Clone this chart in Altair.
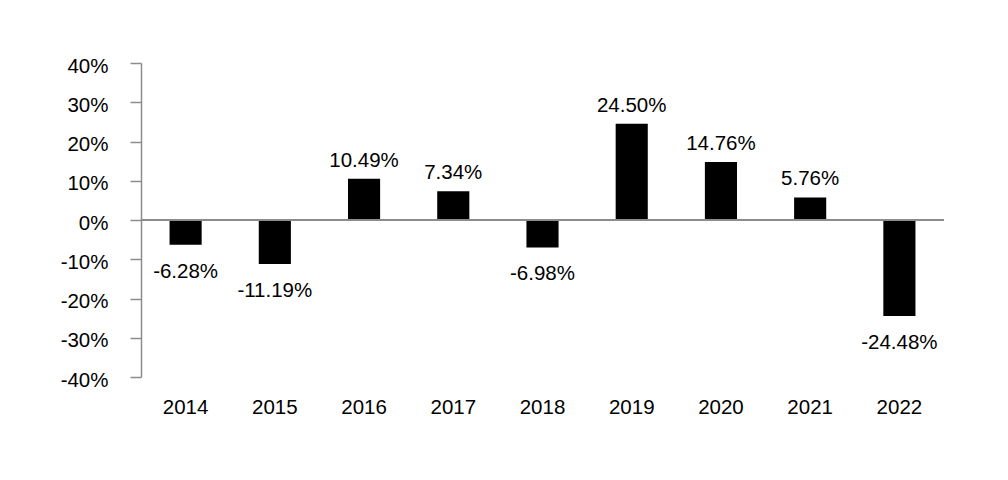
import altair as alt
import pandas as pd

years = ["2014", "2015", "2016", "2017", "2018", "2019", "2020", "2021", "2022"]
returns = [-6.28, -11.19, 10.49, 7.34, -6.98, 24.50, 14.76, 5.76, -24.48]
labels = ["-6.28%", "-11.19%", "10.49%", "7.34%", "-6.98%", "24.50%", "14.76%", "5.76%", "-24.48%"]
ticks = [-40, -30, -20, -10, 0, 10, 20, 30, 40]

df = pd.DataFrame({"year": years, "ret": returns, "label": labels})

W, H = 803, 314
FONT = "Liberation Sans"
GRAY = "#8c8c8c"
FS = 20.5

x = alt.X("year:N", sort=years,
          scale=alt.Scale(paddingInner=0.64, paddingOuter=0.32),
          axis=alt.Axis(title=None, labelAngle=0, domain=False, ticks=False,
                        labelPadding=20, labelFontSize=FS, labelFont=FONT,
                        labelColor="black", orient="bottom"))
y = alt.Y("ret:Q",
          scale=alt.Scale(domain=[-40, 40], nice=False),
          axis=alt.Axis(title=None, values=ticks, tickCount=20,
                        labelExpr="datum.value + '%'", grid=False,
                        labelOverlap=False, labelOffset=3,
                        domainColor=GRAY, domainWidth=1.5, tickColor=GRAY,
                        tickWidth=1.5, tickSize=11, labelPadding=22,
                        labelFontSize=FS, labelFont=FONT, labelColor="black"))

bars = alt.Chart(df).mark_bar(color="black").encode(x=x, y=y)

zero = alt.Chart(df).mark_rule(color=GRAY, strokeWidth=1.5).encode(
    y=alt.datum(0), x=alt.value(0), x2=alt.value(W))

pos_text = alt.Chart(df).transform_filter("datum.ret >= 0").mark_text(
    baseline="bottom", dy=-8, fontSize=FS, font=FONT, color="black"
).encode(x=x, y=y, text="label:N")

neg_text = alt.Chart(df).transform_filter("datum.ret < 0").mark_text(
    baseline="top", dy=17, fontSize=FS, font=FONT, color="black"
).encode(x=x, y=y, text="label:N")

chart = alt.layer(bars, zero, pos_text, neg_text).properties(
    width=W, height=H,
    background="white",
    autosize=alt.AutoSizeParams(type="none"),
    padding={"left": 133, "top": 55, "right": 50, "bottom": 100},
).configure_view(stroke=None, strokeWidth=0)

chart.save("out.html", embed_options={"renderer": "svg", "actions": False})
